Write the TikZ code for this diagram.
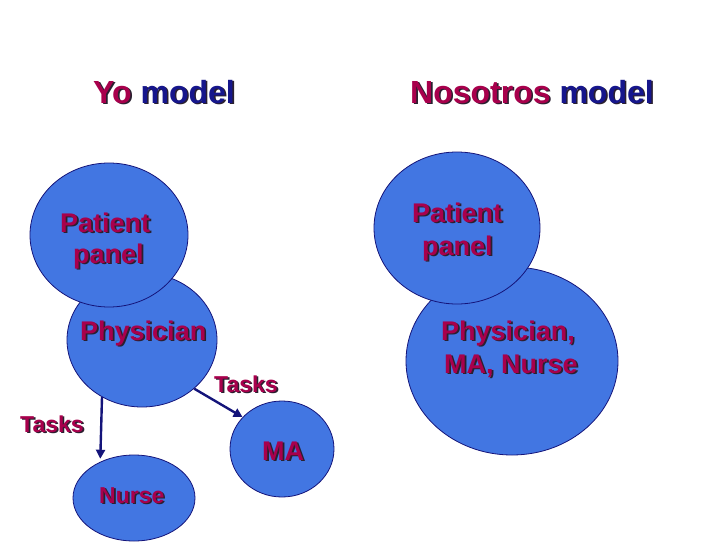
\documentclass[tikz,border=0pt]{standalone}
\usepackage{fontspec}
\setmainfont{Liberation Sans}
\usetikzlibrary{shapes.geometric,arrows.meta}
\definecolor{fillb}{HTML}{4276E2}
\definecolor{crim}{HTML}{A8004C}
\definecolor{navyt}{HTML}{16168C}
\definecolor{navyl}{HTML}{14147A}
\definecolor{shadowc}{HTML}{2A2030}
\newcommand\shd[2]{\leavevmode\rlap{\kern1.6pt\raisebox{-1.6pt}{\color{shadowc}#2}}{\color{#1}#2}}
\tikzset{
  blob/.style={ellipse, draw=navyl, line width=0.8pt, fill=fillb, inner sep=0pt},
  lbl/.style={anchor=base west, inner sep=0pt, font=\bfseries\fontsize{27}{32}\selectfont},
  small/.style={anchor=base west, inner sep=0pt, font=\bfseries\fontsize{23}{27}\selectfont},
  ttl/.style={anchor=base west, inner sep=0pt, font=\bfseries\fontsize{32}{38}\selectfont},
  taskarrow/.style={draw=navyl, line width=2.4pt, -{Triangle[length=9pt,width=9pt]}}
}
\begin{document}
\begin{tikzpicture}[x=1pt,y=-1pt]
\useasboundingbox (0,0) rectangle (728,546);
% titles
\node[ttl] (tyo) at (93,103) {\shd{crim}{Yo} \shd{navyt}{model}};
\node[ttl] (tnos) at (410,103) {\shd{crim}{Nosotros} \shd{navyt}{model}};
% left model
\node[blob, minimum width=150pt, minimum height=134pt] (phys) at (142,340) {};
\node[blob, minimum width=158pt, minimum height=144pt] (pp1) at (109,235) {};
\node[blob, minimum width=122pt, minimum height=86pt] (nurse) at (134,498) {};
\node[blob, minimum width=104pt, minimum height=96pt] (ma) at (282,449) {};
\draw[taskarrow, shorten >=3pt] (phys.-125) -- (nurse.133);
\draw[taskarrow] (phys.-43) -- (ma.141);
\node[lbl] (lpat) at (60,232) {\shd{crim}{Patient}};
\node[lbl] (lpan) at (73,263) {\shd{crim}{panel}};
\node[lbl] (lphy) at (80,340) {\shd{crim}{Physician}};
\node[small] (task2) at (214,392) {\shd{crim}{Tasks}};
\node[small] (task1) at (20,432) {\shd{crim}{Tasks}};
\node[lbl] (lma) at (262,460) {\shd{crim}{MA}};
\node[small] (lnur) at (99,503) {\shd{crim}{Nurse}};
% right model
\node[blob, minimum width=212pt, minimum height=188pt] (team) at (512,361) {};
\node[blob, minimum width=166pt, minimum height=152pt] (pp2) at (457,228) {};
\node[lbl] (rpat) at (412,222) {\shd{crim}{Patient}};
\node[lbl] (rpan) at (422,255) {\shd{crim}{panel}};
\node[lbl] (rphy) at (441,340) {\shd{crim}{Physician,}};
\node[lbl] (rma) at (444,373) {\shd{crim}{MA, Nurse}};
\end{tikzpicture}
\end{document}
